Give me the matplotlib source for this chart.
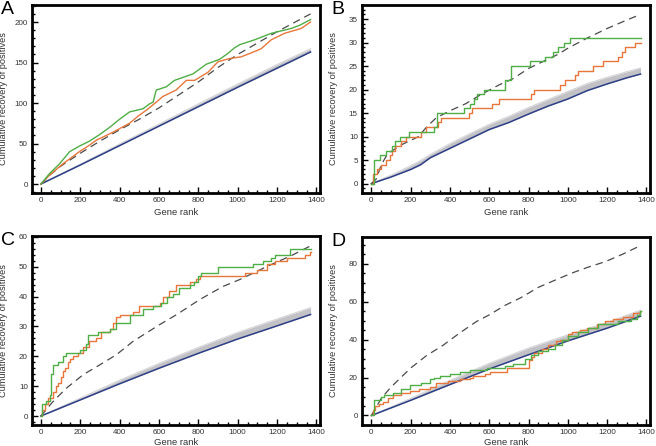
import numpy as np
import matplotlib
matplotlib.use("Agg")
import matplotlib.pyplot as plt
from matplotlib.ticker import MultipleLocator

plt.rcParams['font.family'] = ['Liberation Sans', 'DejaVu Sans']

END = 1370

# ---------------- Panel A ----------------
A_blue_x = [0, 200, 400, 600, 800, 1000, 1200, 1370]
A_blue_y = [0, 23.5, 47.5, 71.5, 95.5, 119.5, 143, 163]
A_gray_y = [0, 24.5, 49.5, 74, 99, 123.5, 147.5, 167]
A_dash_x = [0, 50, 100, 200, 300, 400, 500, 600, 700, 800, 900, 1000, 1100, 1200, 1300, 1370]
A_dash_y = [0, 12, 22, 38, 53, 67, 80, 94, 110, 126, 144, 160, 174, 188, 201, 210]
A_green_x = [0, 44, 95, 112, 146, 197, 247, 298, 349, 400, 450, 519, 552, 570, 586, 637, 679, 773,
             841, 908, 949, 983, 1010, 1085, 1170, 1271, 1315, 1370]
A_green_y = [0, 13, 25, 30, 40, 47, 53, 61, 70, 80, 89, 93, 99, 101, 116, 120, 128, 136,
             148, 154, 161, 168, 172, 178, 186, 192, 196, 203]
A_orange_x = [0, 44, 112, 196, 247, 281, 366, 450, 500, 535, 586, 619, 687, 739, 781, 849, 900,
              960, 1017, 1070, 1119, 1170, 1237, 1322, 1370]
A_orange_y = [0, 11, 25, 40, 48, 54, 64, 75, 85, 91, 101, 108, 116, 128, 128, 138, 151,
              155, 157, 162, 167, 178, 186, 192, 200]

# ---------------- Panel B ----------------
B_blue_x = [0, 100, 200, 250, 300, 400, 500, 600, 700, 800, 900, 1000, 1100, 1200, 1300, 1370]
B_blue_y = [0, 1.4, 3.0, 4.0, 5.5, 7.5, 9.5, 11.5, 13, 14.8, 16.5, 18, 19.8, 21.2, 22.5, 23.3]
B_gray_y = [0, 1.8, 3.8, 4.9, 6.2, 8.5, 10.6, 12.6, 14.3, 16.2, 17.9, 19.6, 21.3, 22.6, 23.8, 24.6]
B_dash_x = [0, 25, 50, 75, 100, 150, 200, 240, 280, 330, 400, 480, 560, 650, 720, 800, 850, 950,
            1000, 1100, 1200, 1300, 1370]
B_dash_y = [0, 1, 4, 5.8, 6.8, 8.2, 9.2, 10, 12, 14, 15.5, 17, 19, 21, 22.3, 24.5, 25.5, 27.5,
            28.8, 31, 33, 34.8, 36]
B_green_x = [0, 12, 46, 76, 107, 122, 145, 192, 318, 334, 470, 500, 520, 540, 575, 680, 713, 806,
             883, 925, 950, 980, 1013]
B_green_y = [0, 5, 6, 7, 8, 9, 10, 11, 12, 15, 16, 17, 18, 19, 20, 22, 25, 26,
             27, 28, 29, 30, 31]
B_orange_x = [0, 8, 30, 48, 73, 95, 107, 120, 150, 175, 250, 280, 340, 355, 497, 514, 616, 650,
              812, 829, 960, 985, 1036, 1052, 1129, 1180, 1256, 1275, 1290, 1341]
B_orange_y = [0, 2, 3, 4, 5, 6, 7, 8, 9, 10, 11, 12, 13, 14, 15, 16, 17, 18,
              19, 20, 21, 22, 23, 24, 25, 26, 27, 28, 29, 30]

# ---------------- Panel C ----------------
C_blue_x = [0, 200, 400, 600, 800, 1000, 1200, 1370]
C_blue_y = [0, 5.4, 10.8, 16, 21, 25.8, 30.2, 34]
C_gray_y = [0, 6, 12, 17.6, 23, 28, 32.5, 36.3]
C_dash_x = [0, 61, 129, 214, 298, 383, 468, 603, 688, 807, 925, 1010, 1146, 1281, 1370]
C_dash_y = [0, 4.8, 9.3, 13.8, 17.1, 20.5, 25, 30.6, 33.9, 39, 43.4, 45.7, 50, 54, 57]
C_green_x = [0, 7, 27, 45, 53, 61, 86, 112, 129, 200, 230, 239, 290, 349, 383, 451, 519, 569,
             610, 640, 671, 700, 760, 780, 798, 815, 900, 1078, 1130, 1171, 1188, 1264]
C_green_y = [0, 4, 5, 7, 14, 17, 18, 20, 21, 22, 24, 27, 28, 29, 31, 34, 36, 37,
             38, 40, 41, 43, 44, 45, 47, 48, 50, 51, 52, 53, 54, 56]
C_orange_x = [0, 8, 19, 36, 61, 75, 86, 100, 112, 125, 137, 150, 163, 188, 214, 247, 281, 307,
              349, 366, 380, 400, 470, 500, 603, 620, 650, 688, 760, 790, 807, 1036, 1100, 1150,
              1188, 1250, 1340, 1365]
C_orange_y = [0, 2, 4, 6, 8, 10, 11, 13, 15, 16, 18, 19, 20, 21, 23, 25, 26, 28,
              29, 31, 33, 34, 35, 37, 38, 40, 42, 44, 45, 46, 47, 48, 49, 51,
              52, 53, 54, 55]

# ---------------- Panel D ----------------
D_blue_x = [0, 200, 400, 600, 800, 1000, 1200, 1370]
D_blue_y = [0, 8, 16.3, 24.5, 32, 39.3, 46, 52.3]
D_gray_y = [0, 9, 18.5, 27.5, 35.5, 42.5, 49, 55.5]
D_dash_x = [0, 50, 100, 150, 200, 280, 365, 450, 535, 600, 680, 760, 850, 940, 1020, 1100, 1190,
            1280, 1370]
D_dash_y = [0, 9, 15, 20, 25, 31.5, 37, 43.5, 49.5, 53, 58, 62, 67.5, 71.5, 75, 78, 81,
            85, 89.5]
D_green_x = [0, 12, 51, 65, 110, 150, 195, 250, 297, 320, 348, 400, 450, 501, 586, 680, 720, 781,
             810, 849, 900, 934, 968, 1000, 1050, 1104, 1155, 1256, 1324, 1350, 1367]
D_green_y = [0, 8, 10, 11, 12, 14, 16, 17, 19, 20, 21, 22, 23, 24, 25, 26, 27, 30,
             32, 34, 35, 37, 40, 42, 44, 46, 48, 50, 51, 53, 55]
D_orange_x = [0, 10, 20, 40, 60, 85, 110, 150, 195, 240, 300, 331, 390, 450, 500, 518, 580, 603,
              690, 803, 815, 830, 870, 900, 940, 960, 1000, 1019, 1060, 1100, 1150, 1188, 1230,
              1280, 1330, 1367]
D_orange_y = [0, 3, 5, 6, 7, 9, 11, 12, 13, 14, 15, 17, 18, 19, 20, 21, 22, 23,
              25, 29, 31, 33, 35, 37, 39, 40, 43, 44, 45, 46, 48, 50, 51,
              52, 54, 55]

panels = [
    ("A", (0.0488, 0.5673, 0.439, 0.4215), (-45, 1418), (-11, 221), 50, 10,
     A_blue_x, A_blue_y, A_gray_y, A_dash_x, A_dash_y, A_green_x, A_green_y, A_orange_x, A_orange_y, False, -0.08),
    ("B", (0.5518, 0.5673, 0.439, 0.4215), (-48, 1418), (-2, 38), 5, 1,
     B_blue_x, B_blue_y, B_gray_y, B_dash_x, B_dash_y, B_green_x, B_green_y, B_orange_x, B_orange_y, True, -0.08),
    ("C", (0.0488, 0.0471, 0.439, 0.4238), (-45, 1418), (-3, 60.3), 10, 2,
     C_blue_x, C_blue_y, C_gray_y, C_dash_x, C_dash_y, C_green_x, C_green_y, C_orange_x, C_orange_y, True, -0.07),
    ("D", (0.5518, 0.0471, 0.439, 0.4215), (-48, 1418), (-5, 94), 20, 5,
     D_blue_x, D_blue_y, D_gray_y, D_dash_x, D_dash_y, D_green_x, D_green_y, D_orange_x, D_orange_y, True, -0.07),
]

BLUE = '#2d3f86'
GREEN = '#4fae45'
ORANGE = '#e8763a'
DASH = '#4a4a4a'
GRAY = '#c2c2c6'

fig = plt.figure(figsize=(6.56, 4.46), dpi=100)
for (lab, rect, xl, yl, ymaj, ymin, bx, by, gy, dx, dy, grx, gry, orx, ory, steps, xlab_y) in panels:
    ax = fig.add_axes(rect)
    ax.fill_between(bx, by, gy, color=GRAY, lw=0, zorder=1)
    ax.plot(bx, gy, color='#d4d4d8', lw=0.8, zorder=1.5)
    ax.plot(bx, by, color=BLUE, lw=1.1, zorder=2)
    ax.plot(dx, dy, color=DASH, lw=0.9, dashes=(6, 4), zorder=3)
    if steps:
        ax.step(list(orx) + [END], list(ory) + [ory[-1]], where='post', color=ORANGE, lw=1.0, zorder=4)
        ax.step(list(grx) + [END], list(gry) + [gry[-1]], where='post', color=GREEN, lw=1.0, zorder=5)
    else:
        ax.plot(orx, ory, color=ORANGE, lw=1.0, zorder=4)
        ax.plot(grx, gry, color=GREEN, lw=1.0, zorder=5)
    ax.set_xlim(*xl)
    ax.set_ylim(*yl)
    ax.xaxis.set_major_locator(MultipleLocator(200))
    ax.xaxis.set_minor_locator(MultipleLocator(50))
    ax.yaxis.set_major_locator(MultipleLocator(ymaj))
    ax.yaxis.set_minor_locator(MultipleLocator(ymin))
    ax.tick_params(which='both', direction='in', top=False, right=False, width=1.0,
                   labelsize=5.8, labelcolor='#333333', pad=3)
    ax.tick_params(which='major', length=4)
    ax.tick_params(which='minor', length=2.2)
    for s in ax.spines.values():
        s.set_linewidth(2.0)
        s.set_color('black')
    ax.set_xlabel('Gene rank', fontsize=6.8, color='#333333')
    ax.set_ylabel('Cumulative recovery of positives', fontsize=6.6, color='#333333')
    ax.xaxis.set_label_coords(0.5, xlab_y)
    ax.yaxis.set_label_coords(-0.083, 0.5)
    fig.text(rect[0] - 0.047, rect[1] + rect[3] + 0.008, lab, fontsize=14, va='top', ha='left',
             color='black')

fig.savefig('out.png', dpi=100)
